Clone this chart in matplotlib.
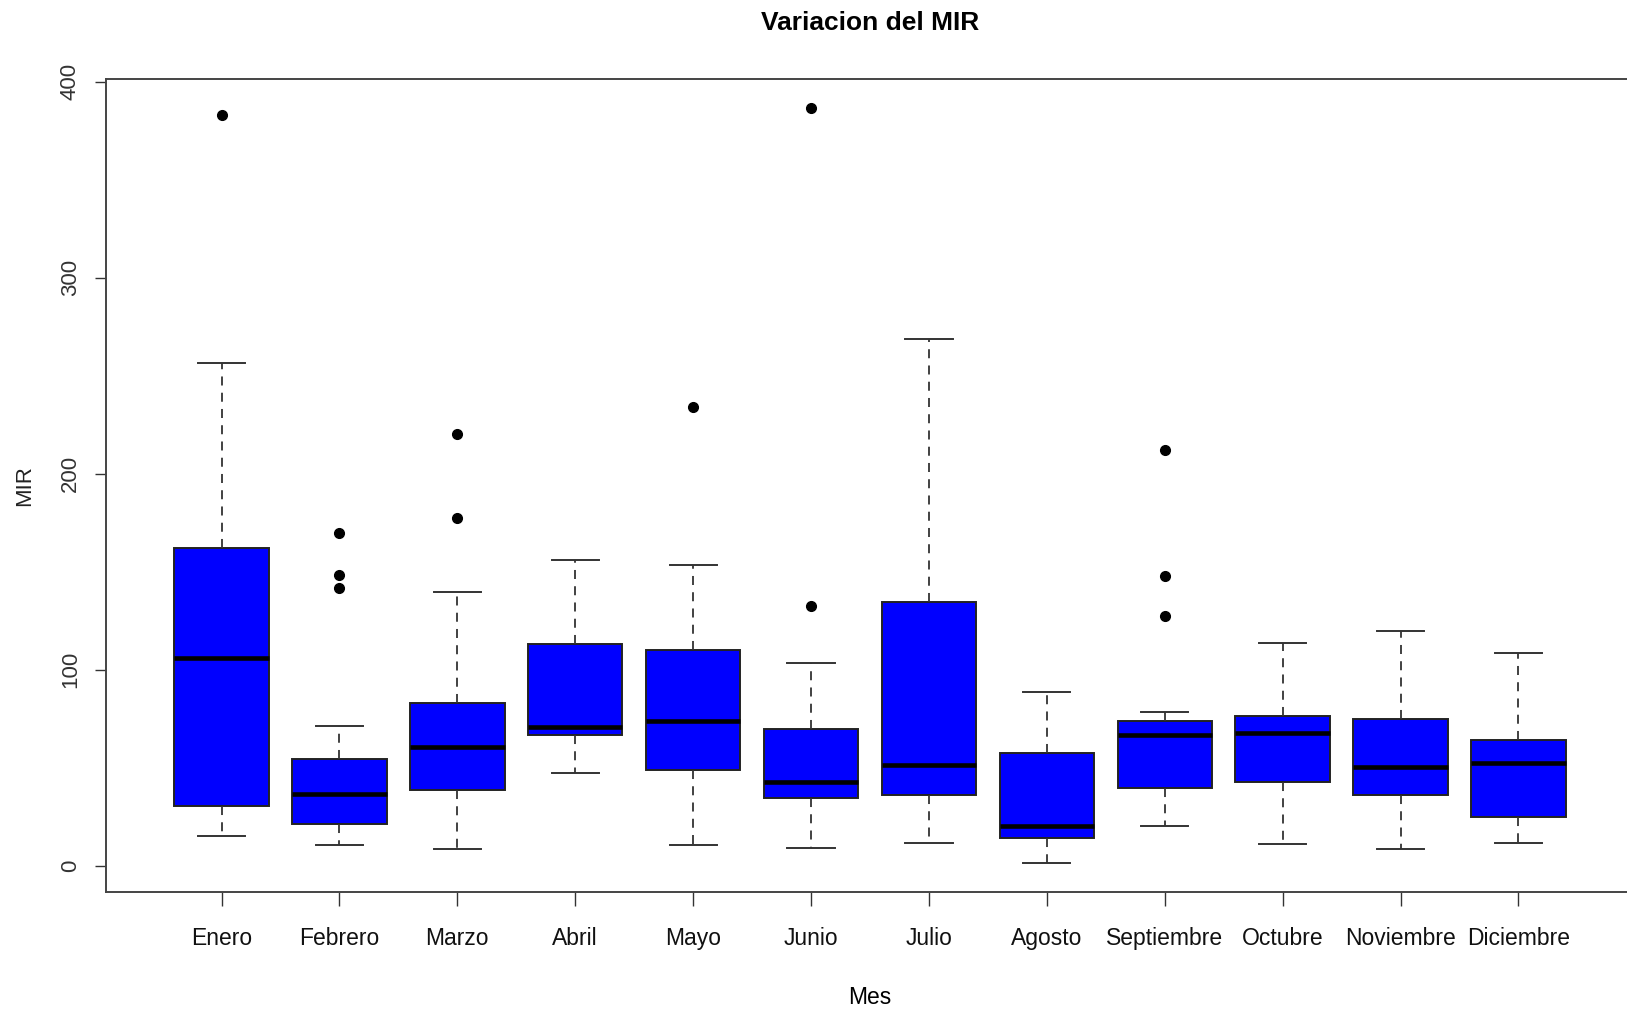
import matplotlib
matplotlib.use("Agg")
import matplotlib.pyplot as plt

# Resumen mensual del MIR (cuartiles, bigotes y valores atipicos)
MESES = ["Enero", "Febrero", "Marzo", "Abril", "Mayo", "Junio", "Julio",
         "Agosto", "Septiembre", "Octubre", "Noviembre", "Diciembre"]
BIGOTE_INF = [15.1, 10.4, 8.3, 47.5, 10.4, 9.0, 11.8, 1.5, 20.5, 11.2, 8.3, 11.8]
Q1 = [30.5, 21.2, 38.4, 66.9, 49.1, 34.4, 35.9, 14.4, 39.8, 42.8, 35.9, 25.1]
MEDIANA = [106.1, 36.8, 60.8, 70.8, 73.8, 42.8, 51.5, 20.5, 66.8, 67.8, 50.6, 52.2]
Q3 = [162.2, 54.7, 83.1, 113.3, 110.2, 69.9, 134.4, 57.6, 74.0, 76.2, 74.8, 64.0]
BIGOTE_SUP = [256.4, 71.5, 139.8, 155.9, 153.6, 103.2, 268.7, 88.6, 78.5, 113.4, 119.6, 108.6]
ATIPICOS = [[383.0], [169.9, 148.2, 141.9], [220.2, 177.4], [], [234.0],
            [386.5, 132.6], [], [], [212.3, 148.0, 127.2], [], [], []]
Y_TICKS = [0, 100, 200, 300, 400]

SANS = ["Liberation Sans", "DejaVu Sans"]

W, H = 1627, 1009
fig = plt.figure(figsize=(W / 100, H / 100), dpi=100)
ax = fig.add_axes([106 / W, 1 - 892 / H, (1634 - 106) / W, (892 - 79) / H])

stats = []
for i, mes in enumerate(MESES):
    stats.append({
        "label": mes,
        "whislo": BIGOTE_INF[i],
        "q1": Q1[i],
        "med": MEDIANA[i],
        "q3": Q3[i],
        "whishi": BIGOTE_SUP[i],
        "fliers": ATIPICOS[i],
    })

ax.bxp(
    stats, positions=range(1, len(MESES) + 1), widths=0.8, capwidths=0.4,
    patch_artist=True, showfliers=True,
    boxprops=dict(facecolor="#0000ff", edgecolor="#222222", linewidth=1.4),
    medianprops=dict(color="black", linewidth=3.3, solid_capstyle="butt"),
    whiskerprops=dict(color="#333333", linewidth=1.3, linestyle=(0, (5, 4))),
    capprops=dict(color="#333333", linewidth=1.4),
    flierprops=dict(marker="o", markerfacecolor="black",
                    markeredgecolor="black", markersize=7),
)

ax.set_xlim(0.02, 12.98)
ax.set_ylim(-13.4, 401.4)

ax.set_xticks(range(1, len(MESES) + 1))
ax.set_xticklabels(MESES, family=SANS, fontsize=16.5, color="#111111")
ax.set_yticks(Y_TICKS)
ax.set_yticklabels([str(v) for v in Y_TICKS], family=SANS, fontsize=16,
                   color="#333333", rotation=90, va="center")
ax.tick_params(axis="x", length=10, width=1.0, color="#333333", pad=15)
ax.tick_params(axis="y", length=8, width=1.0, color="#333333", pad=10)

for lado in ["left", "bottom", "top"]:
    ax.spines[lado].set_color("#444444")
    ax.spines[lado].set_linewidth(1.4)
ax.spines["right"].set_visible(False)

fig.text(870 / W, 1 - 23 / H, "Variacion del MIR", ha="center", va="center",
         family=SANS, fontsize=19, fontweight="bold")
fig.text(870 / W, 1 - 998 / H, "Mes", ha="center", va="center",
         family=SANS, fontsize=16.5)
fig.text(25 / W, 1 - 486 / H, "MIR", ha="center", va="center", rotation=90,
         family=SANS, fontsize=16, color="#222222")

fig.savefig("out.png", dpi=100)
